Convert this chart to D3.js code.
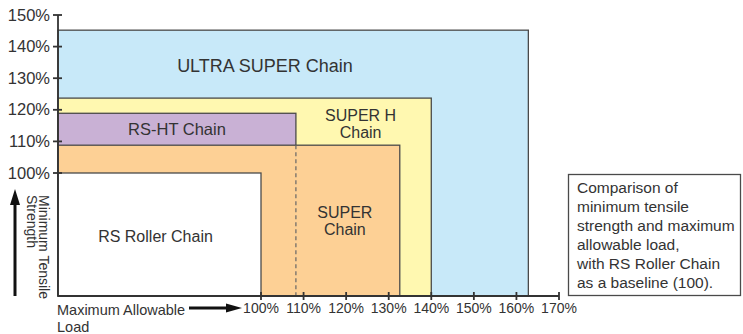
<!DOCTYPE html>
<html>
<head>
<meta charset="utf-8">
<script src="https://cdn.jsdelivr.net/npm/d3@7"></script>
<style>
  html, body { margin: 0; padding: 0; background: #fff; }
  svg { display: block; font-family: "Liberation Sans", Arial, Helvetica, sans-serif; }
</style>
</head>
<body>
<svg id="chart" width="743" height="334"></svg>
<script>
// ---- data ----
const chains = ["ULTRA SUPER Chain", "SUPER H Chain", "RS-HT Chain", "SUPER Chain", "RS Roller Chain"];
const maxLoad = [162.8, 140, 108.2, 132.6, 100];      // % of RS Roller Chain
const minStrength = [145.2, 123.7, 118.9, 108.8, 100]; // % of RS Roller Chain
const fills = ["#c8e9f9", "#fff8b0", "#c9b1d5", "#fdd095", "#ffffff"];
const xTicks = [100, 110, 120, 130, 140, 150, 160, 170];
const yTicks = [100, 110, 120, 130, 140, 150];
const noteLines = ["Comparison of", "minimum tensile", "strength and maximum", "allowable load,", "with RS Roller Chain", "as a baseline (100)."];

// ---- layout ----
const svg = d3.select("#chart");
const x0 = 58, y0 = 296;
const x = d3.scaleLinear().domain([100, 170]).range([261, 559]);
const y = d3.scaleLinear().domain([100, 150]).range([173, 15]);
const ink = "#333";
const rectStroke = "#4a4a4a";

// rectangles (drawn from origin, back to front)
chains.forEach((c, i) => {
  const xr = x(maxLoad[i]), yt = y(minStrength[i]);
  svg.append("rect")
    .attr("x", x0).attr("y", yt)
    .attr("width", xr - x0).attr("height", y0 - yt)
    .attr("fill", fills[i])
    .attr("stroke", rectStroke).attr("stroke-width", 1.3);
});

// dashed continuation of RS-HT right edge
const iHT = chains.indexOf("RS-HT Chain");
const iSup = chains.indexOf("SUPER Chain");
svg.append("line")
  .attr("x1", x(maxLoad[iHT])).attr("x2", x(maxLoad[iHT]))
  .attr("y1", y(minStrength[iSup])).attr("y2", y0)
  .attr("stroke", "#666").attr("stroke-width", 1.2)
  .attr("stroke-dasharray", "4,3");

// axes
const axisG = svg.append("g").attr("stroke", ink).attr("stroke-width", 1.8);
axisG.append("line").attr("x1", x0).attr("x2", x0).attr("y1", y(150)).attr("y2", y0);
axisG.append("line").attr("x1", x0).attr("x2", x(170)).attr("y1", y0).attr("y2", y0);

// y ticks
yTicks.forEach(t => {
  axisG.append("line").attr("x1", x0 - 5).attr("x2", x0 + 4).attr("y1", y(t)).attr("y2", y(t));
  svg.append("text").attr("x", 50).attr("y", y(t) + 5.5)
    .attr("text-anchor", "end").attr("font-size", 16.5).attr("fill", ink)
    .text(t + "%");
});
// x ticks
xTicks.forEach(t => {
  axisG.append("line").attr("x1", x(t)).attr("x2", x(t)).attr("y1", y0 - 4).attr("y2", y0 + 4);
  svg.append("text").attr("x", x(t)).attr("y", 313)
    .attr("text-anchor", "middle").attr("font-size", 14).attr("fill", ink)
    .text(t + "%");
});

// chain labels
function label(lines, cx, baseY, size) {
  lines.forEach((l, k) => {
    svg.append("text").attr("x", cx).attr("y", baseY + k * 17)
      .attr("text-anchor", "middle").attr("font-size", size).attr("fill", ink)
      .text(l);
  });
}
const iU = chains.indexOf("ULTRA SUPER Chain");
const iH = chains.indexOf("SUPER H Chain");
const iR = chains.indexOf("RS Roller Chain");
label(["ULTRA SUPER Chain"], x(100) + 4, (y(minStrength[iU]) + y(minStrength[iH])) / 2 + 8, 18);
label(["RS-HT Chain"], (x0 + x(maxLoad[iHT])) / 2, (y(minStrength[iHT]) + y(minStrength[iSup])) / 2 + 6, 16.5);
label(["SUPER H", "Chain"], (x(maxLoad[iHT]) + x(maxLoad[iH])) / 2 - 3, 120.5, 16);
label(["SUPER", "Chain"], (x(maxLoad[iHT]) + x(maxLoad[iSup])) / 2 - 3, 217.5, 16);
label(["RS Roller Chain"], (x0 + x(maxLoad[iR])) / 2 - 4, 242, 16);

// y axis title + arrow
svg.append("line").attr("x1", 15).attr("x2", 15).attr("y1", y0).attr("y2", 200)
  .attr("stroke", "#111").attr("stroke-width", 3);
svg.append("path").attr("d", "M15,189 L10,205 L20,205 Z").attr("fill", "#111");
const yt = svg.append("text").attr("transform", "translate(39,195) rotate(90)")
  .attr("font-size", 14).attr("fill", ink);
yt.append("tspan").attr("x", 0).attr("y", 0).text("Minimum Tensile");
yt.append("tspan").attr("x", 0).attr("y", 12).text("Strength");

// x axis title + arrow
svg.append("text").attr("x", 57).attr("y", 315).attr("font-size", 14.5)
  .attr("fill", ink).text("Maximum Allowable");
svg.append("text").attr("x", 57).attr("y", 331.5).attr("font-size", 14.5)
  .attr("fill", ink).text("Load");
svg.append("line").attr("x1", 189).attr("x2", 230).attr("y1", 308).attr("y2", 308)
  .attr("stroke", "#111").attr("stroke-width", 3);
svg.append("path").attr("d", "M242,308 L226,303.5 L226,312.5 Z").attr("fill", "#111");

// note box
svg.append("rect").attr("x", 568.5).attr("y", 174.5).attr("width", 172).attr("height", 121)
  .attr("fill", "#fff").attr("stroke", rectStroke).attr("stroke-width", 1.3);
noteLines.forEach((l, k) => {
  svg.append("text").attr("x", 577).attr("y", 193 + k * 19)
    .attr("font-size", 15.5).attr("fill", ink).text(l);
});
</script>
</body>
</html>
